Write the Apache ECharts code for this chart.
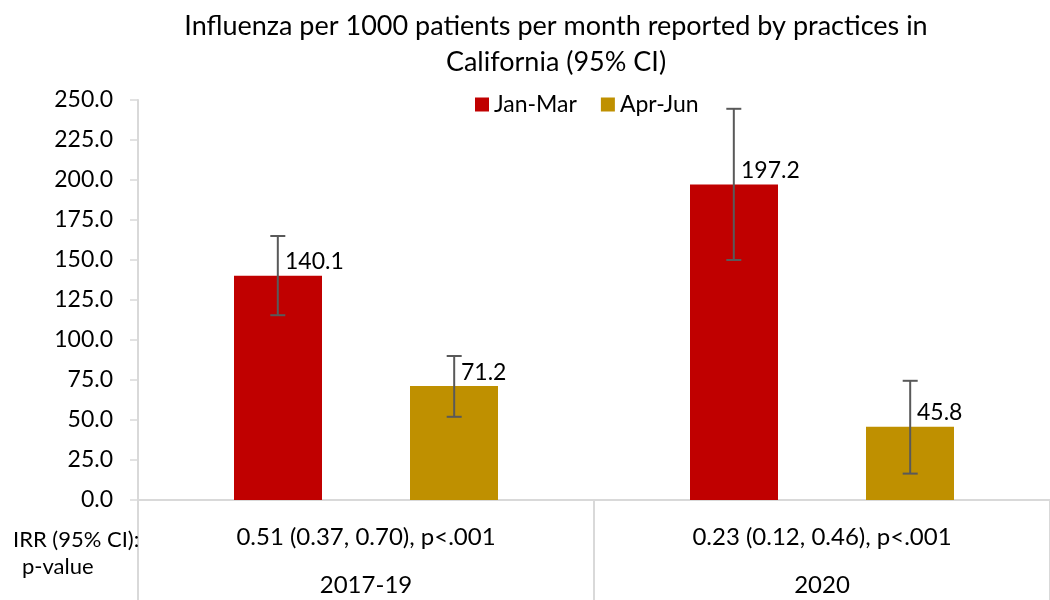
<!DOCTYPE html>
<html>
<head>
<meta charset="utf-8">
<script src="https://cdn.jsdelivr.net/npm/echarts@6/dist/echarts.min.js"></script>
<style>
  html, body { margin: 0; padding: 0; background: #fff; }
  #chart { width: 1050px; height: 600px; }
</style>
</head>
<body>
<div id="chart"></div>
<script>
// ---- data ----
const categories = ['2017-19', '2020'];
const irrLabels = ['0.51 (0.37, 0.70), p<.001', '0.23 (0.12, 0.46), p<.001'];
const seriesNames = ['Jan-Mar', 'Apr-Jun'];
const janMar = [140.1, 197.2];
const aprJun = [71.2, 45.8];
const janMarLow = [115.5, 150.0];
const janMarHigh = [165.0, 244.5];
const aprJunLow = [52.0, 16.5];
const aprJunHigh = [90.0, 74.5];
const yMin = 0, yMax = 250, yStep = 25;

const FONT = 'Lato, "Open Sans", sans-serif';
const colors = ['#C00000', '#BF9000'];

function errData(low, high) {
  return low.map((l, i) => [i, l, high[i]]);
}

function makeErrRender(sign) {
  return function (params, api) {
    const band = api.size([1, 0])[0];
    const off = sign * band * 0.1934;
    const i = api.value(0);
    const pLow = api.coord([i, api.value(1)]);
    const pHigh = api.coord([i, api.value(2)]);
    const x = pLow[0] + off;
    const cap = 7.5;
    const style = { stroke: '#595959', lineWidth: 2 };
    return {
      type: 'group',
      children: [
        { type: 'line', shape: { x1: x, y1: pLow[1], x2: x, y2: pHigh[1] }, style: style },
        { type: 'line', shape: { x1: x - cap, y1: pLow[1], x2: x + cap, y2: pLow[1] }, style: style },
        { type: 'line', shape: { x1: x - cap, y1: pHigh[1], x2: x + cap, y2: pHigh[1] }, style: style }
      ]
    };
  };
}

const barLabel = {
  show: true,
  position: [51, -14],
  align: 'left',
  verticalAlign: 'middle',
  fontFamily: FONT,
  fontSize: 23,
  color: '#000',
  formatter: p => p.value.toFixed(1)
};

const chart = echarts.init(document.getElementById('chart'));
chart.setOption({
  animation: false,
  textStyle: { fontFamily: FONT },
  title: [{
    text: 'Influenza per 1000 patients per month reported by practices in\nCalifornia (95% CI)',
    left: 551,
    textAlign: 'center',
    top: 3,
    textStyle: { fontFamily: FONT, fontSize: 27, fontWeight: 'normal', color: '#000', lineHeight: 36 }
  }, {
    text: '{a|IRR (95% CI):}\n{b|p-value}',
    left: 8,
    top: 521,
    textStyle: {
      fontWeight: 'normal',
      rich: {
        a: { fontFamily: FONT, fontSize: 22, fontWeight: 'normal', color: '#000', lineHeight: 27 },
        b: { fontFamily: FONT, fontSize: 22, fontWeight: 'normal', color: '#000', lineHeight: 27, padding: [0, 0, 0, 9] }
      }
    }
  }],
  legend: {
    data: seriesNames,
    left: 470,
    top: 88,
    itemWidth: 14,
    itemHeight: 14,
    itemGap: 24,
    icon: 'rect',
    textStyle: { fontFamily: FONT, fontSize: 23, color: '#000' }
  },
  grid: { left: 138, right: 0, top: 100, bottom: 100, containLabel: false },
  xAxis: {
    type: 'category',
    data: categories,
    axisLine: { show: true, lineStyle: { color: '#D9D9D9', width: 2 } },
    axisTick: { show: true, length: 100, lineStyle: { color: '#D9D9D9', width: 2 } },
    axisLabel: {
      margin: 13,
      formatter: (v, idx) => '{a|' + irrLabels[idx] + '}\n{b|' + v + '}',
      rich: {
        a: { fontFamily: FONT, fontSize: 24, color: '#000', lineHeight: 48 },
        b: { fontFamily: FONT, fontSize: 24, color: '#000', lineHeight: 48 }
      }
    }
  },
  yAxis: {
    type: 'value',
    min: yMin,
    max: yMax,
    interval: yStep,
    splitLine: { show: false },
    axisLine: { show: true, lineStyle: { color: '#D9D9D9', width: 2 } },
    axisTick: { show: true, length: 8, lineStyle: { color: '#D9D9D9', width: 1.5 } },
    axisLabel: {
      margin: 25,
      fontFamily: FONT,
      fontSize: 23,
      color: '#000',
      formatter: v => v.toFixed(1)
    }
  },
  series: [
    {
      name: seriesNames[0], type: 'bar', data: janMar, barWidth: 88, barGap: '100%',
      itemStyle: { color: colors[0] }, label: barLabel, z: 2
    },
    {
      name: seriesNames[1], type: 'bar', data: aprJun, barWidth: 88, barGap: '100%',
      itemStyle: { color: colors[1] }, label: barLabel, z: 2
    },
    {
      name: 'err-' + seriesNames[0], type: 'custom', data: errData(janMarLow, janMarHigh),
      renderItem: makeErrRender(-1), z: 5, silent: true
    },
    {
      name: 'err-' + seriesNames[1], type: 'custom', data: errData(aprJunLow, aprJunHigh),
      renderItem: makeErrRender(1), z: 5, silent: true
    }
  ]
});
</script>
</body>
</html>
